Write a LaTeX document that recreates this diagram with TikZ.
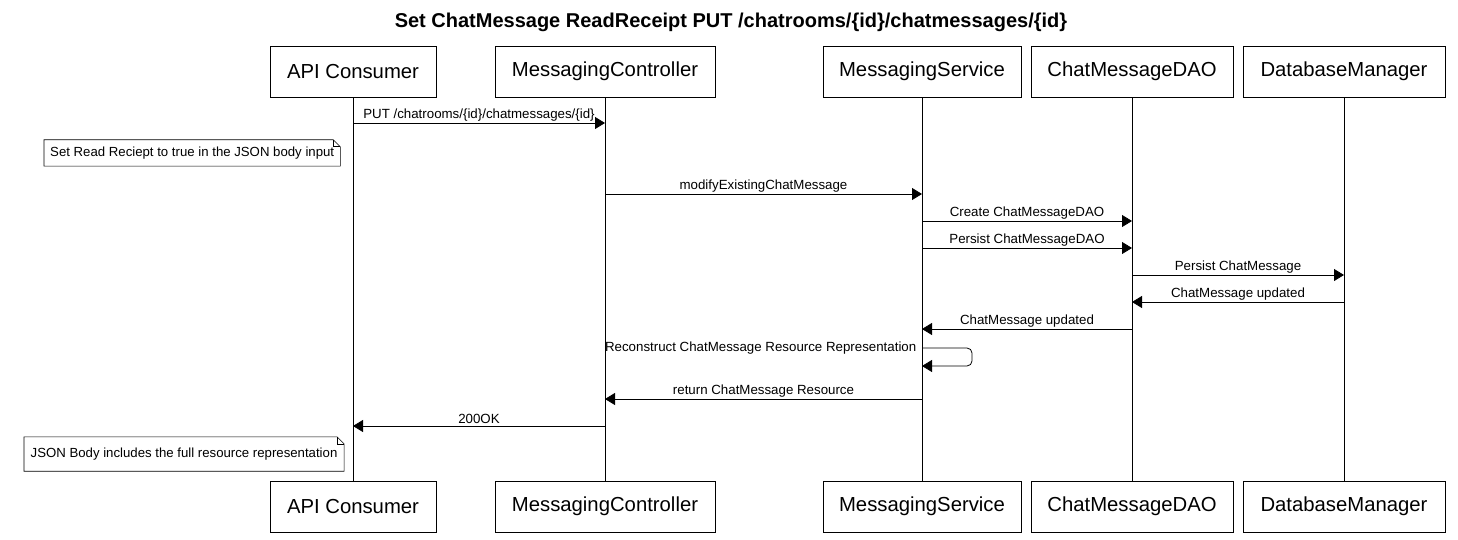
\documentclass[tikz,border=0pt]{standalone}
\usepackage{fontspec}
\setmainfont{Liberation Sans}
\usetikzlibrary{arrows.meta,positioning}

\tikzset{
  actor/.style={draw, line width=0.8pt, minimum height=51pt, font=\fontsize{20.3}{24}\selectfont, inner sep=2pt},
  msg/.style={line width=0.8pt, -{Triangle[length=10pt,width=12pt]}},
  lbl/.style={above, inner sep=1.5pt, font=\fontsize{13.3}{15}\selectfont},
  note/.style={font=\fontsize{13.2}{15}\selectfont, inner xsep=6pt, inner ysep=0pt, anchor=west}
}

\newcommand{\notebox}[1]{%
  \draw[line width=0.6pt] (#1.south west) -- (#1.north west) -- ([xshift=-7pt]#1.north east)
    -- ([yshift=-7pt]#1.north east) -- (#1.south east) -- cycle;
  \draw[line width=0.6pt] ([xshift=-7pt]#1.north east) -- ([xshift=-7pt,yshift=-7pt]#1.north east)
    -- ([yshift=-7pt]#1.north east);
}

\begin{document}
\begin{tikzpicture}[x=1pt, y=-1pt]
    \useasboundingbox (0,0) rectangle (1458,540);

    \node[font=\bfseries\fontsize{20}{24}\selectfont] (title) at (731,22) {Set ChatMessage ReadReceipt PUT /chatrooms/\{id\}/chatmessages/\{id\}};

    % actors, top row
    \node[actor, minimum width=166pt] (apiT) at (353,71.5) {API Consumer};
    \node[actor, minimum width=220pt] (ctrlT) at (605,71.5) {MessagingController};
    \node[actor, minimum width=198pt] (svcT) at (922,71.5) {MessagingService};
    \node[actor, minimum width=202pt] (daoT) at (1132,71.5) {ChatMessageDAO};
    \node[actor, minimum width=202pt] (dbT) at (1344,71.5) {DatabaseManager};

    % actors, bottom row
    \node[actor, minimum width=166pt] (apiB) at (353,506.5) {API Consumer};
    \node[actor, minimum width=220pt] (ctrlB) at (605,506.5) {MessagingController};
    \node[actor, minimum width=198pt] (svcB) at (922,506.5) {MessagingService};
    \node[actor, minimum width=202pt] (daoB) at (1132,506.5) {ChatMessageDAO};
    \node[actor, minimum width=202pt] (dbB) at (1344,506.5) {DatabaseManager};

    % lifelines
    \draw[line width=0.8pt] (apiT) -- (apiB);
    \draw[line width=0.8pt] (ctrlT) -- (ctrlB);
    \draw[line width=0.8pt] (svcT) -- (svcB);
    \draw[line width=0.8pt] (daoT) -- (daoB);
    \draw[line width=0.8pt] (dbT) -- (dbB);

    % messages
    \draw[msg] (apiT |- 0,123) -- node[lbl] {PUT /chatrooms/\{id\}/chatmessages/\{id\}} (ctrlT |- 0,123);

    \node[note, minimum height=26pt] (n1) at (44,153) {Set Read Reciept to true in the JSON body input};
    \notebox{n1}

    \draw[msg] (ctrlT |- 0,194) -- node[lbl] {modifyExistingChatMessage} (svcT |- 0,194);
    \draw[msg] (svcT |- 0,221) -- node[lbl] {Create ChatMessageDAO} (daoT |- 0,221);
    \draw[msg] (svcT |- 0,248) -- node[lbl] {Persist ChatMessageDAO} (daoT |- 0,248);
    \draw[msg] (daoT |- 0,275) -- node[lbl] {Persist ChatMessage} (dbT |- 0,275);
    \draw[msg] (dbT |- 0,302) -- node[lbl] {ChatMessage updated} (daoT |- 0,302);
    \draw[msg] (daoT |- 0,329) -- node[lbl] {ChatMessage updated} (svcT |- 0,329);

    % self call
    \draw[msg, rounded corners=5pt] (svcT |- 0,348) -- ++(50,0) -- ++(0,18) -- (svcT |- 0,366);
    \node[font=\fontsize{13.3}{15}\selectfont, anchor=east, inner sep=1.5pt] (recon) at (918,348) {Reconstruct ChatMessage Resource Representation};

    \draw[msg] (svcT |- 0,399) -- node[lbl] {return ChatMessage Resource} (ctrlT |- 0,399);
    \draw[msg] (ctrlT |- 0,426) -- node[lbl] {200OK} (apiT |- 0,426);

    \node[note, minimum height=34pt, inner xsep=6.5pt] (n2) at (24,454) {JSON Body includes the full resource representation};
    \notebox{n2}
\end{tikzpicture}
\end{document}
